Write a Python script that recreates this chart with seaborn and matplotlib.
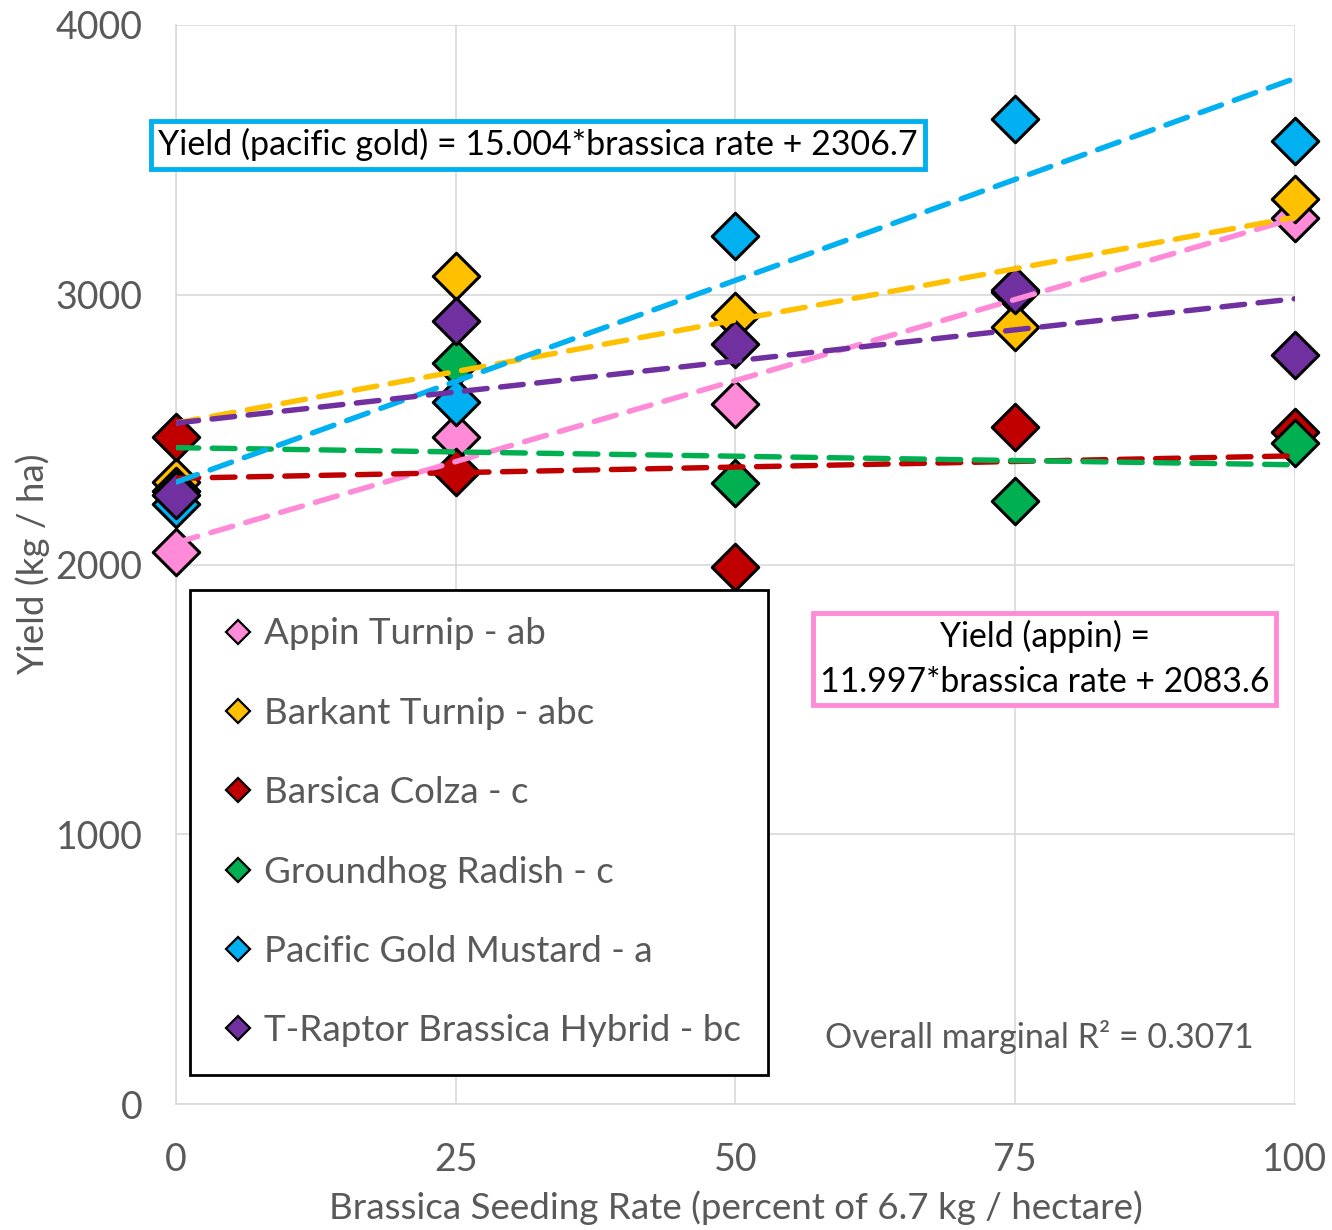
import numpy as np
import pandas as pd
import matplotlib.pyplot as plt
import seaborn as sns
from matplotlib.lines import Line2D

# Values
rates = [0, 25, 50, 75, 100]
varieties = ["Appin Turnip - ab", "Barkant Turnip - abc", "Barsica Colza - c",
             "Groundhog Radish - c", "Pacific Gold Mustard - a",
             "T-Raptor Brassica Hybrid - bc"]
appin = [2048, 2474, 2595, 3010, 3283]
barkant = [2305, 3070, 2922, 2879, 3354]
barsica = [2471, 2344, 1990, 2508, 2493]
groundhog = [2274, 2746, 2301, 2237, 2449]
pacific = [2223, 2604, 3219, 3650, 3571]
traptor = [2258, 2904, 2817, 3018, 2777]
colors = ["#FF8AD8", "#FFC000", "#C00000", "#00B050", "#00B0F0", "#7030A0"]

eq_pacific = "Yield (pacific gold) = 15.004*brassica rate + 2306.7"
eq_appin = "Yield (appin) =\n11.997*brassica rate + 2083.6"
r2_text = "Overall marginal R\u00b2 = 0.3071"

series = [appin, barkant, barsica, groundhog, pacific, traptor]
df = pd.DataFrame({
    "rate": rates * len(varieties),
    "yield": [v for s in series for v in s],
    "variety": [name for name in varieties for _ in rates],
})

sns.set_theme(style="whitegrid")
plt.rcParams['font.family'] = ['Lato', 'DejaVu Sans']
gray = "#595959"

fig = plt.figure(figsize=(13.32, 12.3), dpi=100)
ax = fig.add_axes([0.1321, 0.1024, 0.8401, 0.8773])

# points, drawn series by series so later series sit on top
for name, col in zip(varieties, colors):
    sub = df[df["variety"] == name]
    sns.scatterplot(data=sub, x="rate", y="yield", marker="D", s=560,
                    color=col, edgecolor="black", linewidth=2.2, ax=ax,
                    zorder=3, legend=False, clip_on=False)

# dashed linear trend lines
for name, col in zip(varieties, colors):
    sub = df[df["variety"] == name]
    sns.regplot(data=sub, x="rate", y="yield", scatter=False, ci=None,
                color=col, ax=ax,
                line_kws=dict(lw=3.9, ls=(0, (4.2, 2.5)), zorder=5,
                              solid_capstyle="round", dash_capstyle="round"))

ax.set_xlim(0, 100)
ax.set_ylim(0, 4000)
ax.set_xticks(rates)
ax.set_yticks([0, 1000, 2000, 3000, 4000])
ax.grid(True, color="#D9D9D9", lw=1.2)
ax.set_axisbelow(True)
for side in ["top", "right"]:
    ax.spines[side].set_visible(False)
for side in ["left", "bottom"]:
    ax.spines[side].set_color("#D9D9D9")
    ax.spines[side].set_linewidth(1.2)
ax.tick_params(axis="both", labelsize=27, colors=gray, length=0)
ax.tick_params(axis="x", pad=27)
ax.tick_params(axis="y", pad=24)
ax.set_xlabel("Brassica Seeding Rate (percent of 6.7 kg / hectare)",
              fontsize=26.5, color=gray, labelpad=9)
ax.set_ylabel("Yield (kg / ha)", fontsize=26.5, color=gray, labelpad=4)

handles = [Line2D([], [], marker="D", ls="none", markersize=12,
                  markerfacecolor=c, markeredgecolor="black",
                  markeredgewidth=1.6) for c in colors]
leg = ax.legend(handles, varieties, loc="lower left",
                bbox_to_anchor=(0.0125, 0.027), fontsize=26.5,
                labelcolor=gray, frameon=True, fancybox=False,
                edgecolor="black", framealpha=1, labelspacing=1.26,
                handletextpad=0.15, handlelength=1.1, borderpad=0.75,
                borderaxespad=0)
leg.get_frame().set_linewidth(2)
leg.set_zorder(10)

ax.text(-0.016, 0.889, eq_pacific, transform=ax.transAxes, fontsize=24.5,
        color="black", va="center", ha="left", zorder=11, clip_on=False,
        bbox=dict(boxstyle="square,pad=0.22", fc="white", ec="#00B0F0", lw=3.5))
ax.text(0.7766, 0.4124, eq_appin, transform=ax.transAxes, fontsize=24.3,
        color="black", va="center", ha="center", ma="center", zorder=11,
        linespacing=1.5,
        bbox=dict(boxstyle="square,pad=0.2", fc="white", ec="#FF8AD8", lw=3.5))
ax.text(0.7715, 0.062, r2_text, transform=ax.transAxes, fontsize=24.5,
        color=gray, va="center", ha="center", zorder=11)

fig.savefig("out.png", dpi=100)
